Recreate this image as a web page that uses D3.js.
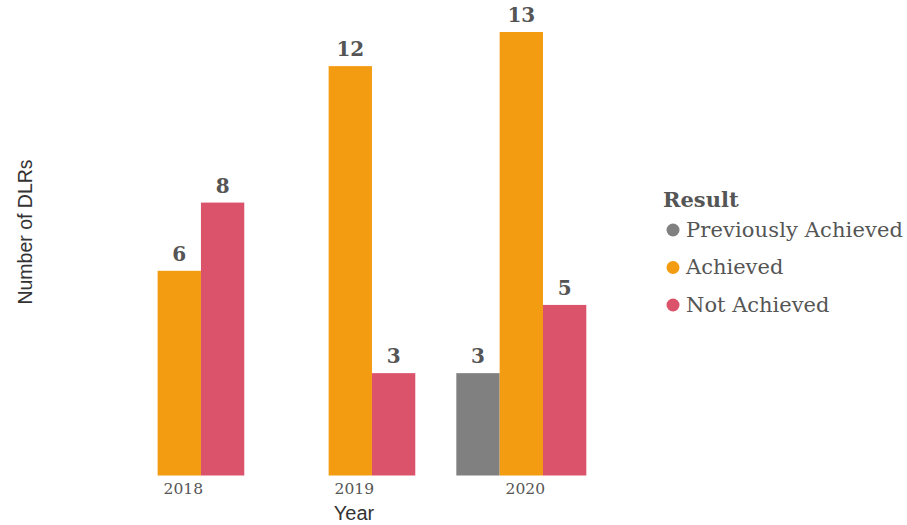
<!DOCTYPE html>
<html><head><meta charset="utf-8">
<script src="https://cdn.jsdelivr.net/npm/d3@7"></script>
<style>body{margin:0;background:#fff;}svg{display:block;}</style>
</head><body>
<script>
const years = ["2018", "2019", "2020"];
const results = ["Previously Achieved", "Achieved", "Not Achieved"];
const prevAchieved = [null, null, 3];
const achieved = [6, 12, 13];
const notAchieved = [8, 3, 5];
const colors = ["#808080", "#F39C12", "#DB526B"];

const W = 907, H = 525;
const svg = d3.select("body").append("svg").attr("width", W).attr("height", H);

const series = [prevAchieved, achieved, notAchieved];
const rows = [];
years.forEach((y, i) => results.forEach((r, j) => {
  if (series[j][i] != null) rows.push({year: y, result: r, value: series[j][i], color: colors[j]});
}));

const x0 = d3.scaleBand().domain(years).range([114.3, 586.3]).paddingInner(0.24).paddingOuter(0);
const x1 = d3.scaleBand().domain(results).range([0, x0.bandwidth()]).padding(0);
const y = d3.scaleLinear().domain([0, 13]).range([475.5, 32]);
const color = d3.scaleOrdinal().domain(results).range(colors);

const serif = "Georgia, 'DejaVu Serif', serif";
const sans = "Arial, 'Liberation Sans', sans-serif";

svg.append("g").selectAll("rect").data(rows).join("rect")
  .attr("x", d => x0(d.year) + x1(d.result))
  .attr("y", d => y(d.value))
  .attr("width", x1.bandwidth())
  .attr("height", d => y(0) - y(d.value))
  .attr("fill", d => color(d.result));

svg.append("g").selectAll("text").data(rows).join("text")
  .attr("x", d => x0(d.year) + x1(d.result) + x1.bandwidth() / 2)
  .attr("y", d => y(d.value) - 10)
  .attr("text-anchor", "middle")
  .attr("font-family", serif).attr("font-weight", "bold").attr("font-size", 20)
  .attr("fill", "#555")
  .text(d => d.value);

// x axis labels
const xAxis = d3.axisBottom(x0).tickSize(0).tickPadding(0);
const gx = svg.append("g").attr("transform", `translate(4,${y(0)})`).call(xAxis);
gx.select(".domain").remove();
gx.selectAll("text").attr("font-family", serif).attr("font-size", 15.5).attr("fill", "#555").attr("dy", "1.2em");

svg.append("text").attr("x", 354).attr("y", 520).attr("text-anchor", "middle")
  .attr("font-family", sans).attr("font-size", 20).attr("fill", "#333").text("Year");

svg.append("text").attr("transform", "translate(32,232) rotate(-90)").attr("text-anchor", "middle")
  .attr("font-family", sans).attr("font-size", 19.5).attr("fill", "#333").text("Number of DLRs");

// legend
const lg = svg.append("g");
lg.append("text").attr("x", 663).attr("y", 207).attr("font-family", serif).attr("font-weight", "bold")
  .attr("font-size", 21).attr("fill", "#555").text("Result");
const items = lg.selectAll("g.item").data(results).join("g").attr("class", "item")
  .attr("transform", (d, i) => `translate(0,${230 + i * 37.5})`);
items.append("circle").attr("cx", 673).attr("cy", 0).attr("r", 6.5).attr("fill", d => color(d));
items.append("text").attr("x", 686).attr("y", 6.5)
  .attr("font-family", serif).attr("font-size", 21).attr("fill", "#555")
  .attr("textLength", d => d === "Previously Achieved" ? 217 : null)
  .text(d => d);
</script>
</body></html>
